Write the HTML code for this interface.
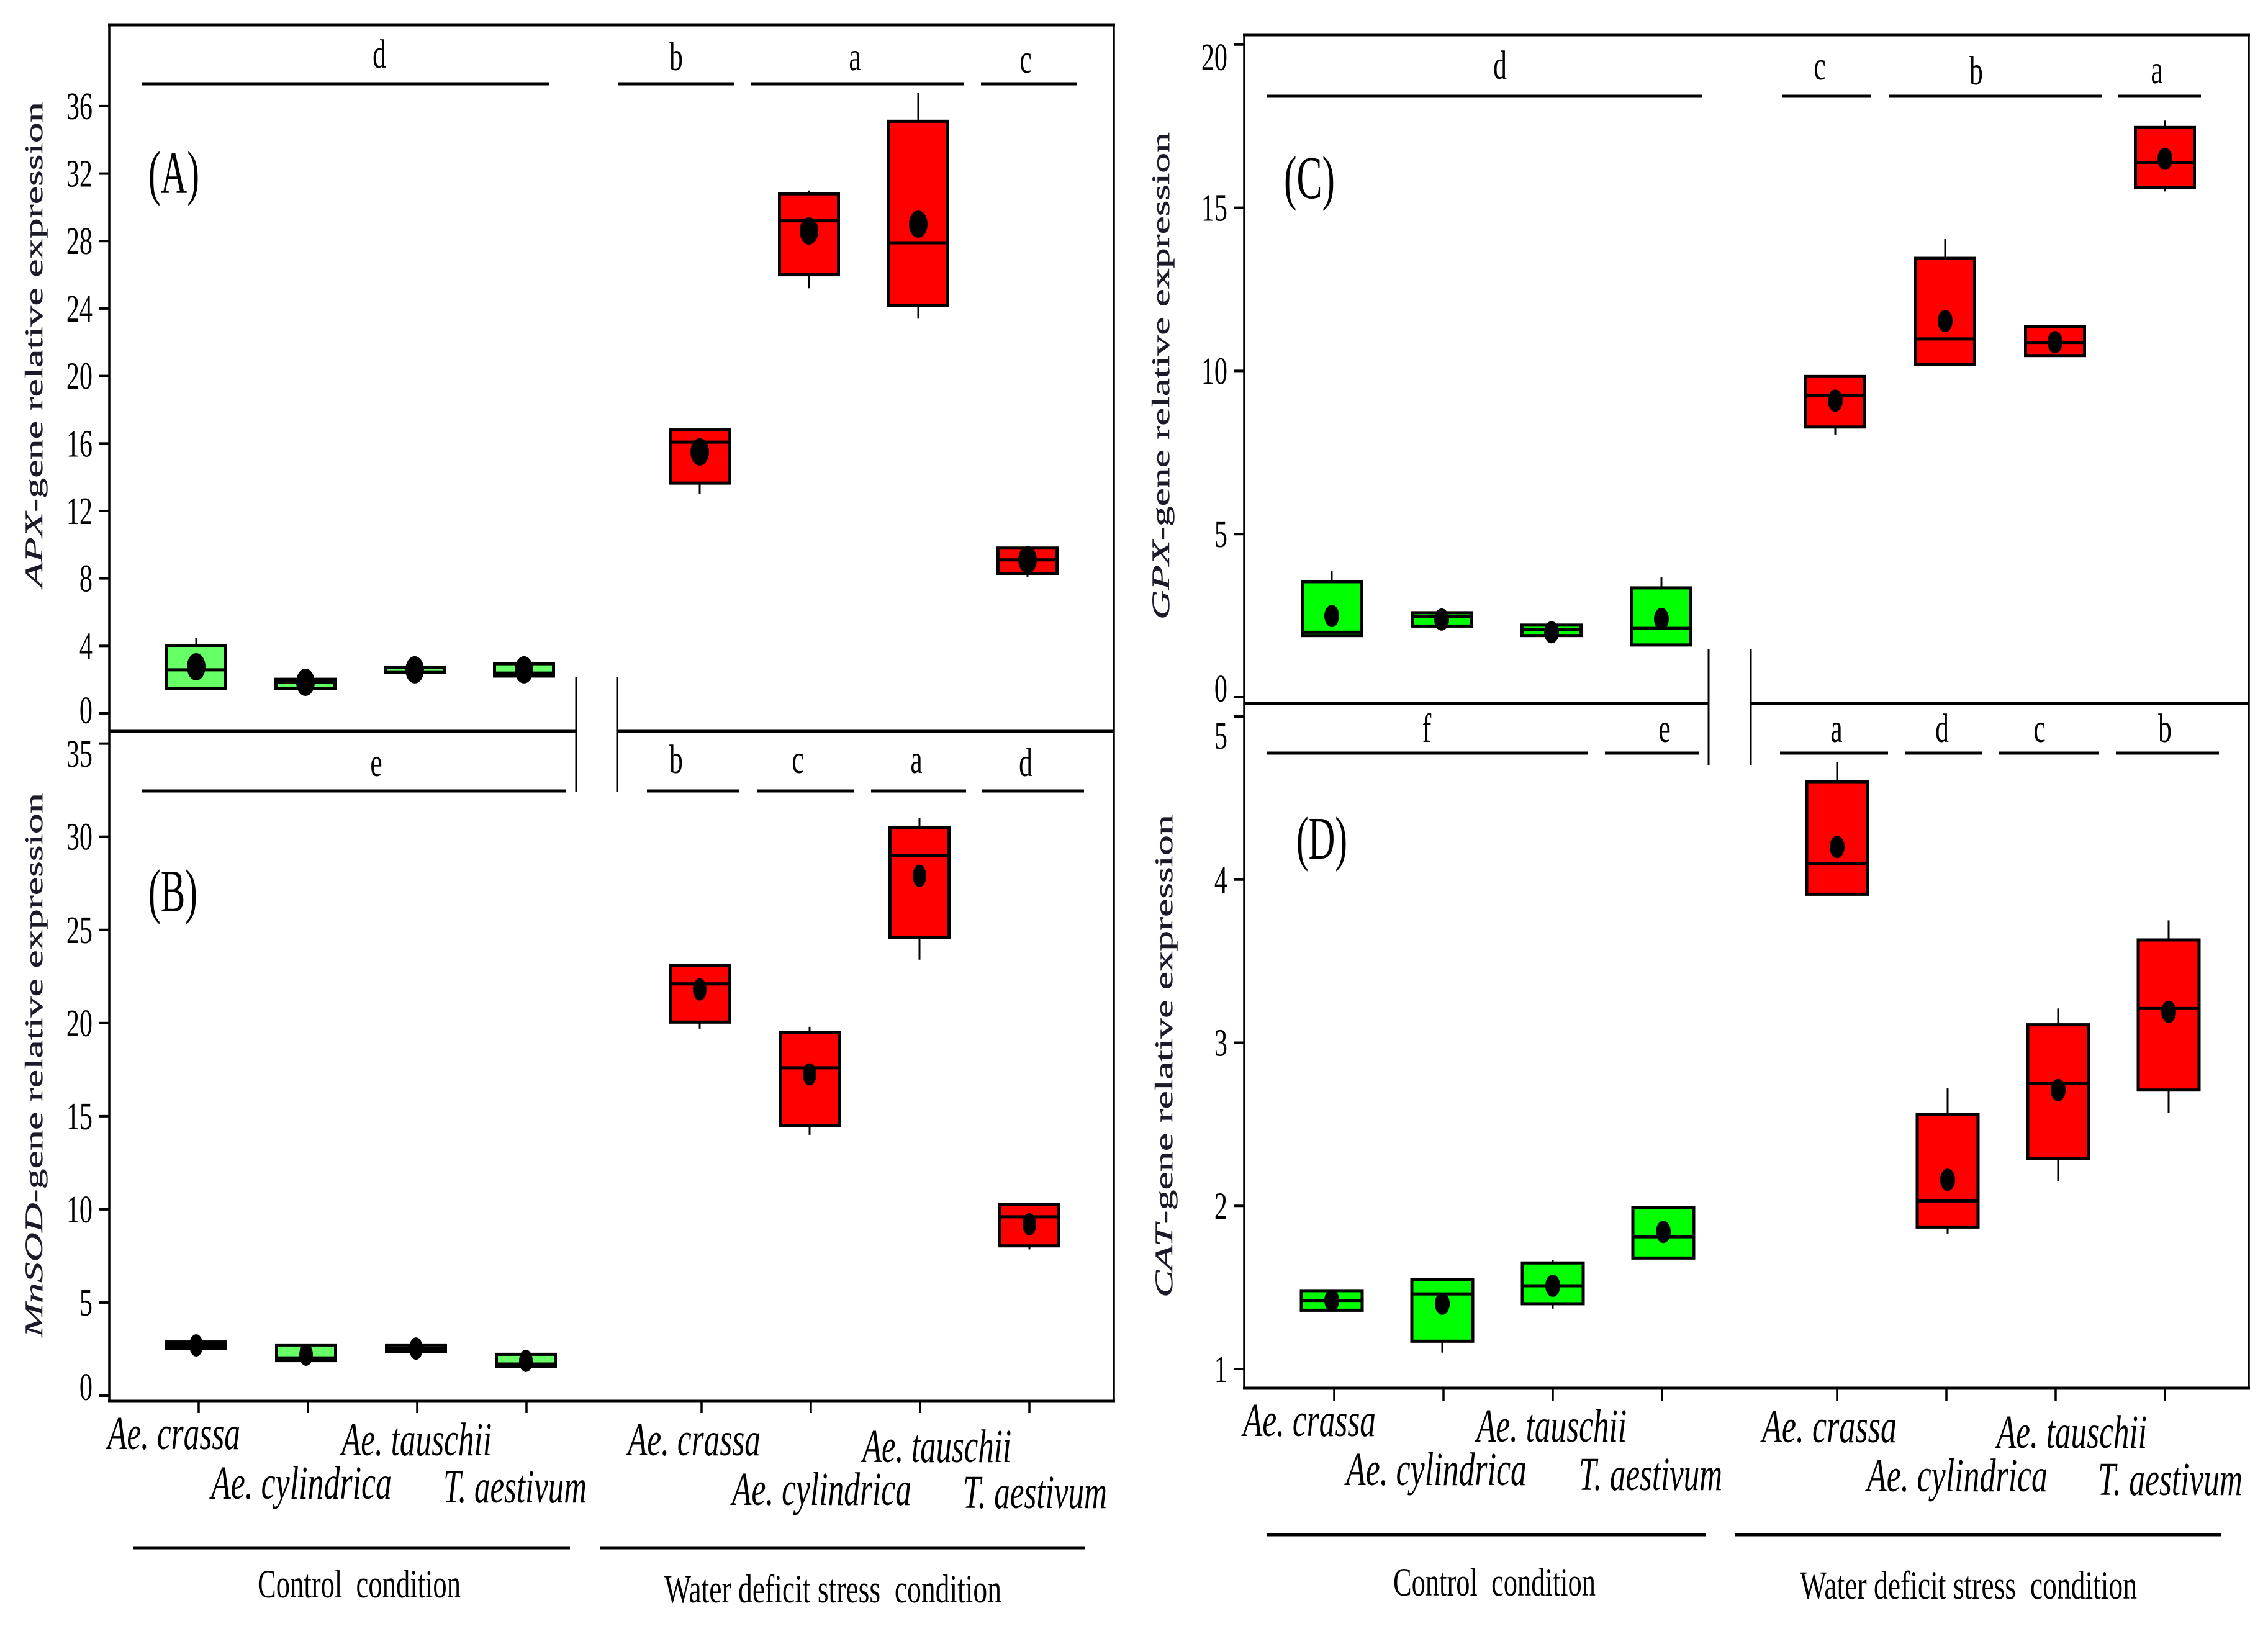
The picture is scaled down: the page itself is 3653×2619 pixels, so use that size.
<!DOCTYPE html>
<html lang="en">
<head>
<meta charset="utf-8">
<title>Gene relative expression box plots</title>
<style>
html,body{margin:0;padding:0;background:#fff;}
svg{display:block;}
text{font-family:"Liberation Serif",serif;fill:#000;}
.sig{font-size:66px;text-anchor:middle;}
.cat{font-size:76px;font-style:italic;}
.grp{font-size:65px;}
.pl{font-size:98px;}
.yt{font-size:40px;fill:#1a1a28;stroke:#1a1a28;stroke-width:.4px;}
.yt tspan{font-style:italic;}
</style>
</head>
<body>
<svg id="figure" xmlns="http://www.w3.org/2000/svg" width="3653" height="2619" viewBox="0 0 3653 2619">
<rect width="3653" height="2619" fill="#fff"/>

<g stroke="#000" fill="none">
  <g stroke-width="5">
    <path d="M174 40H1796"/>
    <path d="M174 2257H1796"/>
    <path d="M176 1178H928"/>
    <path d="M994 1178H1794"/>
    <path d="M2002 56H3624"/>
    <path d="M2002 2236H3624"/>
    <path d="M2004 1133H2752"/>
    <path d="M2820 1133H3622"/>
  </g>
  <g stroke-width="3.5">
    <path d="M176 40V2257"/>
    <path d="M1794 40V2257"/>
    <path d="M2004 56V2236"/>
    <path d="M3622 56V2236"/>
  </g>
</g>
<g stroke="#000" stroke-width="3">
  <line x1="928" y1="1091" x2="928" y2="1276"/>
  <line x1="994" y1="1091" x2="994" y2="1276"/>
  <line x1="2752" y1="1045" x2="2752" y2="1232"/>
  <line x1="2820" y1="1045" x2="2820" y2="1232"/>
</g>

<g stroke="#000" stroke-width="5">
  <line x1="229" y1="135" x2="885" y2="135"/>
  <line x1="995" y1="135" x2="1182" y2="135"/>
  <line x1="1210" y1="135" x2="1553" y2="135"/>
  <line x1="1580" y1="135" x2="1735" y2="135"/>
  <line x1="229" y1="1274" x2="911" y2="1274"/>
  <line x1="1042" y1="1274" x2="1191" y2="1274"/>
  <line x1="1219" y1="1274" x2="1376" y2="1274"/>
  <line x1="1403" y1="1274" x2="1556" y2="1274"/>
  <line x1="1582" y1="1274" x2="1746" y2="1274"/>
  <line x1="2040" y1="155" x2="2741" y2="155"/>
  <line x1="2871" y1="155" x2="3014" y2="155"/>
  <line x1="3042" y1="155" x2="3385" y2="155"/>
  <line x1="3412" y1="155" x2="3545" y2="155"/>
  <line x1="2040" y1="1213" x2="2557" y2="1213"/>
  <line x1="2585" y1="1213" x2="2737" y2="1213"/>
  <line x1="2867" y1="1213" x2="3041" y2="1213"/>
  <line x1="3069" y1="1213" x2="3192" y2="1213"/>
  <line x1="3219" y1="1213" x2="3381" y2="1213"/>
  <line x1="3408" y1="1213" x2="3574" y2="1213"/>
</g>

<g>
  <text class="sig" transform="translate(611,109) scale(.66,1)">d</text>
  <text class="sig" transform="translate(1089,113) scale(.66,1)">b</text>
  <text class="sig" transform="translate(1377,113) scale(.66,1)">a</text>
  <text class="sig" transform="translate(1652,117) scale(.66,1)">c</text>
  <text class="sig" transform="translate(606,1250) scale(.66,1)">e</text>
  <text class="sig" transform="translate(1089,1245) scale(.66,1)">b</text>
  <text class="sig" transform="translate(1285,1245) scale(.66,1)">c</text>
  <text class="sig" transform="translate(1476,1245) scale(.66,1)">a</text>
  <text class="sig" transform="translate(1652,1250) scale(.66,1)">d</text>
  <text class="sig" transform="translate(2416,127) scale(.66,1)">d</text>
  <text class="sig" transform="translate(2931,128) scale(.66,1)">c</text>
  <text class="sig" transform="translate(3183,136) scale(.66,1)">b</text>
  <text class="sig" transform="translate(3474,134) scale(.66,1)">a</text>
  <text class="sig" transform="translate(2298,1195) scale(.66,1)">f</text>
  <text class="sig" transform="translate(2681,1195) scale(.66,1)">e</text>
  <text class="sig" transform="translate(2958,1195) scale(.66,1)">a</text>
  <text class="sig" transform="translate(3128,1195) scale(.66,1)">d</text>
  <text class="sig" transform="translate(3285,1195) scale(.66,1)">c</text>
  <text class="sig" transform="translate(3487,1195) scale(.66,1)">b</text>
</g>

<g>
  <text class="pl" x="239" y="311" textLength="82" lengthAdjust="spacingAndGlyphs">(A)</text>
  <text class="pl" x="239" y="1468" textLength="79" lengthAdjust="spacingAndGlyphs">(B)</text>
  <text class="pl" x="2068" y="319" textLength="82" lengthAdjust="spacingAndGlyphs">(C)</text>
  <text class="pl" x="2088" y="1383" textLength="82" lengthAdjust="spacingAndGlyphs">(D)</text>
</g>

<g>
  <text class="yt" transform="translate(68,946) rotate(-90)" textLength="782" lengthAdjust="spacingAndGlyphs"><tspan>APX</tspan>-gene relative expression</text>
  <text class="yt" transform="translate(68,2154) rotate(-90)" textLength="877" lengthAdjust="spacingAndGlyphs"><tspan>MnSOD</tspan>-gene relative expression</text>
  <text class="yt" transform="translate(1883,998) rotate(-90)" textLength="785" lengthAdjust="spacingAndGlyphs"><tspan>GPX</tspan>-gene relative expression</text>
  <text class="yt" transform="translate(1888,2090) rotate(-90)" textLength="778" lengthAdjust="spacingAndGlyphs"><tspan>CAT</tspan>-gene relative expression</text>
</g>

<g>
  <text class="cat" x="173" y="2334" textLength="214" lengthAdjust="spacingAndGlyphs">Ae. crassa</text>
  <text class="cat" x="340" y="2414" textLength="291" lengthAdjust="spacingAndGlyphs">Ae. cylindrica</text>
  <text class="cat" x="550" y="2344" textLength="242" lengthAdjust="spacingAndGlyphs">Ae. tauschii</text>
  <text class="cat" x="714" y="2420" textLength="231" lengthAdjust="spacingAndGlyphs">T. aestivum</text>
  <text class="cat" x="1011" y="2344" textLength="214" lengthAdjust="spacingAndGlyphs">Ae. crassa</text>
  <text class="cat" x="1179" y="2424" textLength="289" lengthAdjust="spacingAndGlyphs">Ae. cylindrica</text>
  <text class="cat" x="1389" y="2355" textLength="240" lengthAdjust="spacingAndGlyphs">Ae. tauschii</text>
  <text class="cat" x="1551" y="2429" textLength="232" lengthAdjust="spacingAndGlyphs">T. aestivum</text>
  <text class="cat" x="2002" y="2313" textLength="214" lengthAdjust="spacingAndGlyphs">Ae. crassa</text>
  <text class="cat" x="2168" y="2392" textLength="291" lengthAdjust="spacingAndGlyphs">Ae. cylindrica</text>
  <text class="cat" x="2378" y="2322" textLength="242" lengthAdjust="spacingAndGlyphs">Ae. tauschii</text>
  <text class="cat" x="2543" y="2400" textLength="231" lengthAdjust="spacingAndGlyphs">T. aestivum</text>
  <text class="cat" x="2838" y="2323" textLength="217" lengthAdjust="spacingAndGlyphs">Ae. crassa</text>
  <text class="cat" x="3007" y="2402" textLength="291" lengthAdjust="spacingAndGlyphs">Ae. cylindrica</text>
  <text class="cat" x="3216" y="2332" textLength="242" lengthAdjust="spacingAndGlyphs">Ae. tauschii</text>
  <text class="cat" x="3379" y="2408" textLength="233" lengthAdjust="spacingAndGlyphs">T. aestivum</text>
</g>

<g stroke="#000" stroke-width="5">
  <line x1="214" y1="2493" x2="918" y2="2493"/>
  <line x1="966" y1="2493" x2="1748" y2="2493"/>
  <line x1="2040" y1="2472" x2="2748" y2="2472"/>
  <line x1="2794" y1="2472" x2="3577" y2="2472"/>
</g>
<g>
  <text class="grp" x="415" y="2573" textLength="327" lengthAdjust="spacingAndGlyphs" xml:space="preserve">Control  condition</text>
  <text class="grp" x="1070" y="2581" textLength="543" lengthAdjust="spacingAndGlyphs" xml:space="preserve">Water deficit stress  condition</text>
  <text class="grp" x="2244" y="2570" textLength="326" lengthAdjust="spacingAndGlyphs" xml:space="preserve">Control  condition</text>
  <text class="grp" x="2899" y="2575" textLength="543" lengthAdjust="spacingAndGlyphs" xml:space="preserve">Water deficit stress  condition</text>
</g>

<g id="charts"></g>
</svg>

<script>
const categories = ["Ae. crassa control","Ae. cylindrica control","Ae. tauschii control","T. aestivum control","Ae. crassa stress","Ae. cylindrica stress","Ae. tauschii stress","T. aestivum stress"];

const apxTicks = [0,4,8,12,16,20,24,28,32,36];
const apxQ3 = [4.03,2.02,2.74,2.94,16.8,30.8,35.1,9.8];
const apxQ1 = [1.49,1.49,2.41,2.21,13.65,26.0,24.2,8.3];
const apxMedian = [2.58,1.86,2.46,2.39,16.08,29.2,27.9,9.1];
const apxMean = [2.76,1.84,2.58,2.58,15.5,28.6,29.0,9.1];
const apxHigh = [4.49,2.02,2.74,2.94,16.8,31.0,36.8,9.8];
const apxLow = [1.49,1.49,2.41,2.21,13.03,25.2,23.4,8.1];

const sodTicks = [0,5,10,15,20,25,30,35];
const sodQ3 = [2.88,2.72,2.72,2.22,23.1,19.5,30.5,10.27];
const sodQ1 = [2.55,1.88,2.38,1.55,20.05,14.5,24.6,8.04];
const sodMedian = [2.7,2.03,2.55,1.7,22.1,17.6,29.0,9.6];
const sodMean = [2.7,2.2,2.53,1.87,21.8,17.25,27.9,9.2];
const sodHigh = [2.88,2.72,2.72,2.22,23.1,19.8,31.0,10.27];
const sodLow = [2.55,1.88,2.38,1.55,19.7,14.0,23.4,7.85];

const gpxTicks = [0,5,10,15,20];
const gpxQ3 = [3.54,2.59,2.21,3.35,9.83,13.45,11.36,17.46];
const gpxQ1 = [1.89,2.18,1.89,1.6,8.28,10.2,10.47,15.62];
const gpxMedian = [1.99,2.48,2.07,2.11,9.25,10.98,10.87,16.39];
const gpxMean = [2.49,2.38,1.99,2.4,9.09,11.53,10.88,16.5];
const gpxHigh = [3.86,2.7,2.21,3.67,9.83,14.04,11.36,17.67];
const gpxLow = [1.89,2.07,1.7,1.6,8.05,10.2,10.47,15.5];

const catTicks = [1,2,3,4,5];
const catQ3 = [1.48,1.55,1.65,1.99,4.6,2.56,3.11,3.63];
const catQ1 = [1.36,1.17,1.4,1.68,3.91,1.87,2.29,2.71];
const catMedian = [1.42,1.46,1.51,1.81,4.1,2.03,2.75,3.21];
const catMean = [1.42,1.4,1.51,1.84,4.2,2.16,2.71,3.19];
const catHigh = [1.48,1.55,1.67,1.99,4.72,2.72,3.21,3.75];
const catLow = [1.36,1.1,1.37,1.68,3.91,1.83,2.15,2.57];

const SVG_NS = "http://www.w3.org/2000/svg";

function make(tag, parent, attrs) {
  const el = document.createElementNS(SVG_NS, tag);
  for (const key in attrs) el.setAttribute(key, attrs[key]);
  parent.appendChild(el);
  return el;
}

function drawPanel(p) {
  const root = document.getElementById("charts");
  const g = make("g", root, {});
  
  

  const yScale = v => p.y0 + (v - p.v0) * p.unit;
  const boxX = i => i < 4 ? p.ctrlBox + i * p.boxStep : p.stressBox + (i - 4) * p.boxStep;
  const tickX = i => i < 4 ? p.ctrlTick + i * 176 : p.stressTick + (i - 4) * 176;

  p.ticks.forEach(t => {
    const y = yScale(t);
    const tick = make("line", g, {x1: p.left - 16, x2: p.left, y1: y, y2: y, stroke: "#000", "stroke-width": 4});
    
    
    const cy = Math.min(Math.max(y, p.labelMin), p.labelMax);
    const label = make("text", g, {transform: "translate(" + (p.left - 27) + "," + (cy + 21) + ") scale(.68,1)", "font-size": 62, "text-anchor": "end"});
    
    
    label.textContent = String(t);
  });

  if (p.axisY) {
    categories.forEach((c, i) => {
      const x = tickX(i);
      const tick = make("line", g, {x1: x, x2: x, y1: p.axisY, y2: p.axisY + 20, stroke: "#000", "stroke-width": 3.5});
      
      
    });
  }

  categories.forEach((c, i) => {
    const x = boxX(i);
    const box = make("g", g, {});
    
    
    make("line", box, {x1: x, x2: x, y1: yScale(p.high[i]), y2: yScale(p.q3[i]), stroke: "#000", "stroke-width": 3});
    make("line", box, {x1: x, x2: x, y1: yScale(p.q1[i]), y2: yScale(p.low[i]), stroke: "#000", "stroke-width": 3});
    const yTop = yScale(p.q3[i]);
    const yBot = yScale(p.q1[i]);
    make("rect", box, {x: x - p.boxW / 2, y: yTop, width: p.boxW, height: yBot - yTop, fill: i < 4 ? p.green : "#ff0000", stroke: "#000", "stroke-width": 5});
    const my = yScale(p.median[i]);
    make("line", box, {x1: x - p.boxW / 2, x2: x + p.boxW / 2, y1: my, y2: my, stroke: "#000", "stroke-width": 5});
    make("ellipse", box, {cx: x, cy: yScale(p.mean[i]), rx: p.rx, ry: p.ry, fill: "#000"});
  });
}

drawPanel({name:"apx", ticks:apxTicks, q3:apxQ3, q1:apxQ1, median:apxMedian, mean:apxMean, high:apxHigh, low:apxLow,
  left:176, y0:1149, v0:0, unit:-27.17, ctrlBox:316, stressBox:1127, boxStep:176, ctrlTick:320, stressTick:1130,
  boxW:95, green:"#66ff66", rx:15, ry:22, labelMin:0, labelMax:1144, axisY:0});
drawPanel({name:"mnsod", ticks:sodTicks, q3:sodQ3, q1:sodQ1, median:sodMedian, mean:sodMean, high:sodHigh, low:sodLow,
  left:176, y0:2248, v0:0, unit:-30.01, ctrlBox:316, stressBox:1127, boxStep:177, ctrlTick:320, stressTick:1130,
  boxW:95, green:"#66ff66", rx:11, ry:18, labelMin:1214, labelMax:2234, axisY:2256});
drawPanel({name:"gpx", ticks:gpxTicks, q3:gpxQ3, q1:gpxQ1, median:gpxMedian, mean:gpxMean, high:gpxHigh, low:gpxLow,
  left:2004, y0:1123, v0:0, unit:-52.56, ctrlBox:2145, stressBox:2956, boxStep:177, ctrlTick:2149, stressTick:2959,
  boxW:95, green:"#00ff00", rx:12, ry:18, labelMin:92, labelMax:1109, axisY:0});
drawPanel({name:"cat", ticks:catTicks, q3:catQ3, q1:catQ1, median:catMedian, mean:catMean, high:catHigh, low:catLow,
  left:2004, y0:2205, v0:1, unit:-262.75, ctrlBox:2145, stressBox:2959, boxStep:178, ctrlTick:2149, stressTick:2959,
  boxW:98, green:"#00ff00", rx:12, ry:18, labelMin:1185, labelMax:2220, axisY:2236});
</script>
</body>
</html>
